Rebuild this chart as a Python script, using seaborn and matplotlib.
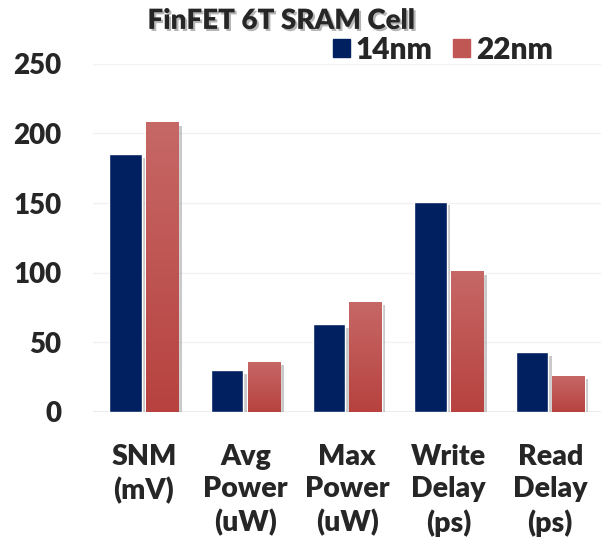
import numpy as np
import pandas as pd
import matplotlib.pyplot as plt
import matplotlib.patheffects as pe
import seaborn as sns
from matplotlib.colors import LinearSegmentedColormap
from matplotlib.patches import Patch

# values
categories = ["SNM\n(mV)", "Avg\nPower\n(uW)", "Max\nPower\n(uW)", "Write\nDelay\n(ps)", "Read\nDelay\n(ps)"]
nm14 = [185, 30, 63, 151, 43]
nm22 = [208, 36, 79, 101, 26]
series = ["14nm", "22nm"]

df = pd.DataFrame({
    "metric": categories * 2,
    "node": [series[0]] * 5 + [series[1]] * 5,
    "value": nm14 + nm22,
})

sns.set_style("white")
plt.rcParams['font.family'] = ['Lato', 'DejaVu Sans']
W = "heavy"

navy = "#002060"
red_top = "#C66866"
red_bot = "#B7423F"

fig = plt.figure(figsize=(6.01, 5.5), dpi=100)
ax = fig.add_axes([0.155, 0.251, 0.845, 0.633])

sns.barplot(data=df, x="metric", y="value", hue="node",
            palette=[navy, red_bot], width=0.72, gap=0.11,
            ax=ax, legend=False, saturation=1)

# faint gridlines
ax.set_yticks(range(0, 251, 50))
ax.yaxis.grid(True, color="#f2f2f2", linewidth=1)
ax.set_axisbelow(True)
for s in ax.spines.values():
    s.set_visible(False)
ax.axhline(0, color="#e6e6e6", linewidth=1.2, zorder=0.5)

# gradient + soft shadow on each bar
grad = LinearSegmentedColormap.from_list("redgrad", [red_bot, red_top])
bars = list(ax.patches)
for i, bar in enumerate(bars):
    bar.set_path_effects([pe.SimplePatchShadow(offset=(2.5, -2.5), shadow_rgbFace="#888888", alpha=0.45),
                          pe.Normal()])
    if i >= 5:
        x0, y0 = bar.get_x(), bar.get_y()
        w, h = bar.get_width(), bar.get_height()
        img = ax.imshow(np.linspace(0, 1, 100).reshape(-1, 1), cmap=grad,
                        extent=[x0, x0 + w, y0, y0 + h], origin="lower",
                        aspect="auto", zorder=bar.get_zorder() + 0.1)
        img.set_clip_path(bar)
ax.set_xlim(-0.5, 4.5)
ax.set_ylim(0, 250)

ax.set_xlabel("")
ax.set_ylabel("")
ax.tick_params(axis="both", length=0)
ax.tick_params(axis="x", pad=23, labelsize=20.5)
ax.tick_params(axis="y", pad=23, labelsize=20)
for lbl in ax.get_xticklabels() + ax.get_yticklabels():
    lbl.set_fontweight(W)
for lbl in ax.get_xticklabels():
    lbl.set_verticalalignment("top")
    lbl.set_linespacing(1.3)

# legend
handles = [Patch(color=navy), Patch(color="#C05755")]
fig.legend(handles, series, loc="center", bbox_to_anchor=(0.737, 0.909), ncol=2,
           frameon=False, prop={"weight": W, "size": 21.5},
           handlelength=0.55, handleheight=0.55, handletextpad=0.2, columnspacing=0.7)

fig.text(0.468, 0.962, "FinFET 6T SRAM Cell", ha="center", va="center",
         fontsize=20, fontweight=W,
         path_effects=[pe.withSimplePatchShadow(offset=(1.5, -1.5), alpha=0.3)])

fig.savefig("out.png", dpi=100)
